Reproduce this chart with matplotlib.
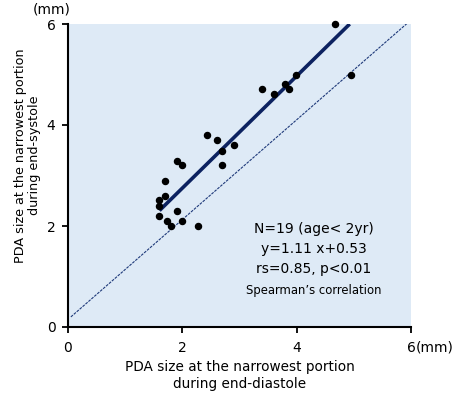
import numpy as np
import matplotlib
matplotlib.use("Agg")
import matplotlib.pyplot as plt

# end-diastole (x) vs end-systole (y), mm
diastole = [4.67, 4.95, 3.40, 3.60, 3.79, 3.86, 3.99, 2.44, 2.60, 2.70, 2.90, 2.70,
            1.90, 2.00, 1.70, 1.70, 1.60, 1.60, 1.60, 1.90, 1.74, 1.81, 2.00, 2.27]
systole = [6.00, 5.00, 4.71, 4.61, 4.81, 4.71, 5.00, 3.80, 3.70, 3.49, 3.60, 3.20,
           3.29, 3.20, 2.90, 2.60, 2.51, 2.40, 2.20, 2.30, 2.10, 2.00, 2.10, 2.00]
slope, intercept = 1.11, 0.53
ticks = [0, 2, 4, 6]

plt.rcParams['font.family'] = ['DejaVu Sans']
fig = plt.figure(figsize=(4.57, 3.95), dpi=100)
ax = fig.add_axes([68/457, 68/395, 343/457, 303/395])
ax.set_facecolor('#deeaf6')

# reference (identity-ish) line
ax.plot([0.05, 5.97], [0.2, 6.05], color='#1f3a7a', lw=0.8, ls=(0, (2.5, 1)), zorder=2)

# regression line
xr = np.array([min(diastole), (6 - intercept) / slope])
ax.plot(xr, slope * xr + intercept, color='#0c2260', lw=2.6, zorder=3, solid_capstyle='butt')

ax.scatter(diastole, systole, s=19, color='black', zorder=4, clip_on=False)

ax.set_xlim(0, 6)
ax.set_ylim(0, 6)
ax.set_xticks(ticks)
ax.set_yticks(ticks)
ax.tick_params(labelsize=10, length=4, width=1.3)
ax.tick_params(axis='x', pad=6)
ax.tick_params(axis='y', pad=5)
for s in ['top', 'right']:
    ax.spines[s].set_visible(False)
for s in ['left', 'bottom']:
    ax.spines[s].set_linewidth(1.5)

ax.text(6.09, -0.41, '(mm)', ha='left', va='center', fontsize=10, clip_on=False)
ax.text(0.05, 6.28, '(mm)', ha='right', va='center', fontsize=10, clip_on=False)

ax.set_xlabel('PDA size at the narrowest portion\nduring end-diastole', fontsize=9.8,
              linespacing=1.2, labelpad=4)
ax.set_ylabel('PDA size at the narrowest portion\nduring end-systole', fontsize=9.2,
              linespacing=1.15, labelpad=4, y=0.566)

ax.text(4.3, 1.95, 'N=19 (age< 2yr)', ha='center', va='center', fontsize=10)
ax.text(4.3, 1.55, 'y=1.11 x+0.53', ha='center', va='center', fontsize=10)
ax.text(4.3, 1.15, 'rs=0.85, p<0.01', ha='center', va='center', fontsize=10)
ax.text(4.3, 0.72, "Spearman\u2019s correlation", ha='center', va='center', fontsize=8.4)

fig.savefig('out.png', dpi=100)
